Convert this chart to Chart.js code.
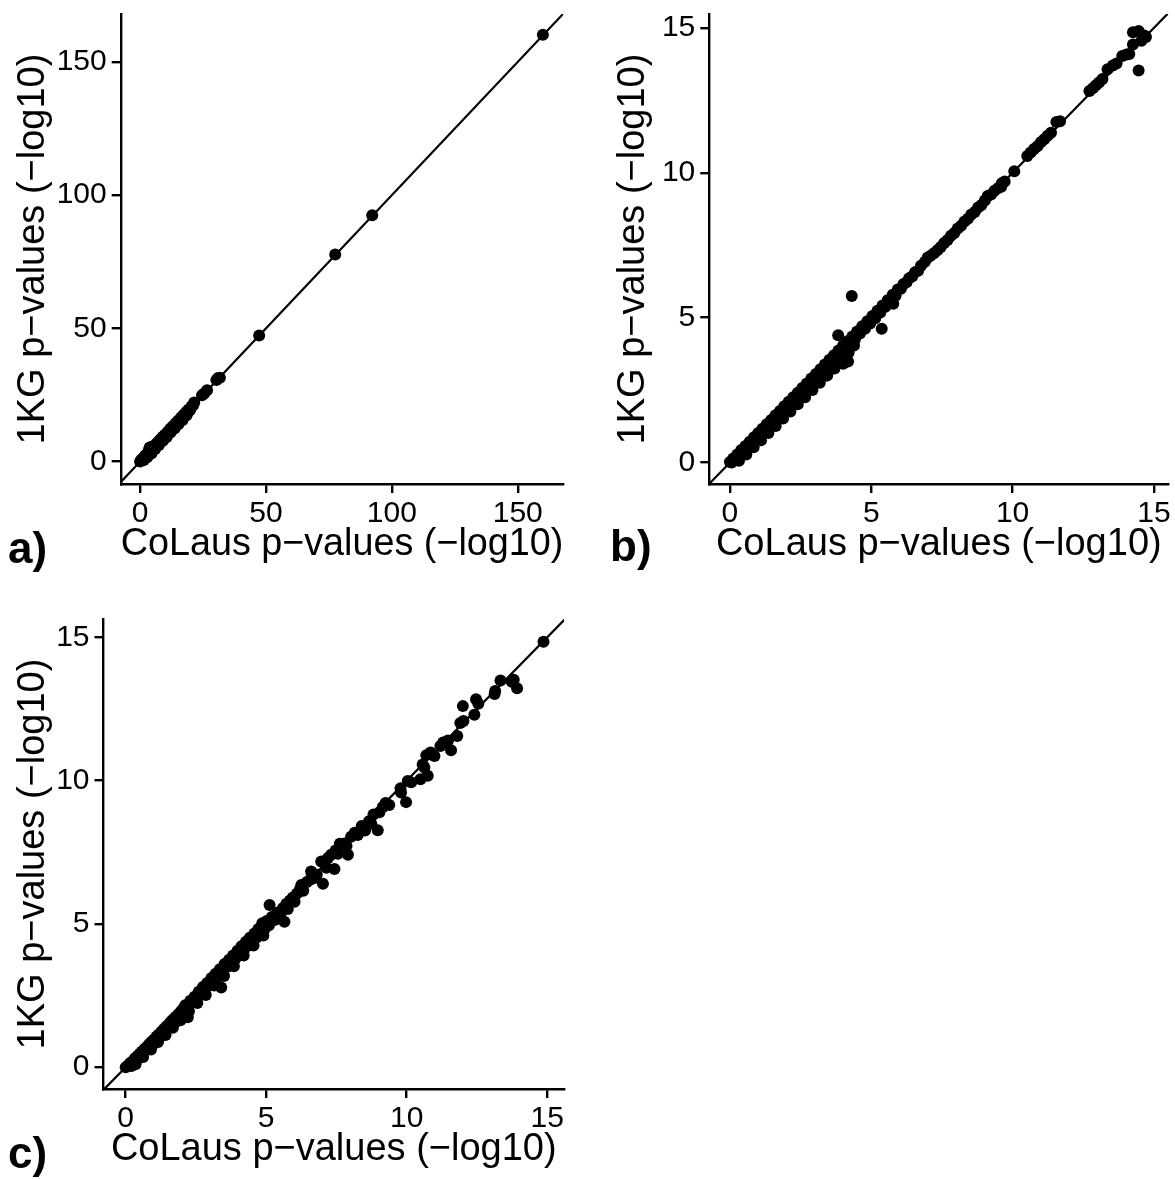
<!DOCTYPE html>
<html>
<head>
<meta charset="utf-8">
<script src="https://cdn.jsdelivr.net/npm/chart.js@4.4.1/dist/chart.umd.min.js"></script>
<style>
  html, body { margin: 0; padding: 0; background: #fff; overflow: hidden; }
  body { width: 1175px; height: 1179px; position: relative; font-family: "Liberation Sans", Arial, Helvetica, sans-serif; }
  canvas { position: absolute; }
  .tag { position: absolute; font-weight: bold; font-size: 44px; line-height: 44px; color: #000; }
</style>
</head>
<body>
<canvas id="panelA" width="600" height="620" style="left:0px;top:-30px"></canvas>
<canvas id="panelB" width="610" height="620" style="left:590px;top:-30px"></canvas>
<canvas id="panelC" width="600" height="605" style="left:-10px;top:590px"></canvas>
<div class="tag" style="left:8px;top:526px">a)</div>
<div class="tag" style="left:610px;top:524px">b)</div>
<div class="tag" style="left:8px;top:1131px">c)</div>
<script>
// axis titles
const xTitle = 'CoLaus p\u2212values (\u2212log10)';
const yTitle = '1KG p\u2212values (\u2212log10)';

// tick values
const ticksA = [0, 50, 100, 150];
const ticksBC = [0, 5, 10, 15];

// axis ranges [min, max]
const xRangeA = [-7.7, 168.1], yRangeA = [-8.4, 168.0];
const xRangeB = [-0.73, 15.51], yRangeB = [-0.74, 15.48];
const xRangeC = [-0.79, 15.6], yRangeC = [-0.76, 15.64];

// [CoLaus, 1KG] pairs
const pointsA = [
  [0,0],[0.4,0.6],[0.9,0.5],[1.2,1.4],[1.5,0.6],[1.8,1.3],[2.1,2.4],[2.6,2.0],[2.8,1.6],[3.0,3.1],[3.4,2.7],
  [3.5,4.4],[3.8,5.3],[4.2,3.6],[4.5,3.0],[4.6,5.6],[5.0,4.3],[5.4,5.6],[5.9,5.2],[6.0,4.7],[6.3,6.6],
  [6.8,6.1],[7.2,7.5],[7.5,6.2],[7.7,7.0],[8.1,8.4],[8.6,7.9],[9.0,9.3],[9.1,7.8],[9.5,8.8],[10.0,10.2],
  [10.5,9.8],[10.6,9.2],[11.0,11.2],[11.5,10.8],[12.0,12.3],[12.1,10.9],[12.5,11.9],[13.0,13.3],[13.6,12.9],
  [13.7,12.4],[14.1,14.4],[14.6,13.8],[15.1,15.3],[15.2,14.0],[15.7,15.0],[16.2,16.5],[16.7,16.0],
  [16.8,15.5],[17.2,17.5],[17.8,17.2],[18.3,18.6],[18.4,17.3],[18.8,18.2],[19.3,19.6],[19.9,19.4],
  [20.4,20.7],[21.0,21.1],[21.5,22.2],[24.6,24.9],[25.5,25.6],[26.6,26.8],[30.3,30.6],[31.0,31.4],
  [31.7,31.5],[47.3,47.3],[77.5,77.7],[92.2,92.5],[160.0,160.2]
];

const pointsB = [
  [0.0,0.02],[0.06,0.0],[0.12,0.14],[0.2,0.1],[0.26,0.28],[0.34,0.25],[0.4,0.43],[0.49,0.38],[0.55,0.57],
  [0.63,0.52],[0.7,0.72],[0.79,0.66],[0.85,0.87],[0.94,0.8],[1.0,1.02],[1.09,0.95],[1.15,1.17],[1.24,1.1],
  [1.3,1.32],[1.4,1.25],[1.46,1.47],[1.55,1.4],[1.61,1.63],[1.7,1.55],[1.77,1.78],[1.86,1.7],[1.92,1.94],
  [2.01,1.86],[2.08,2.1],[2.17,2.01],[2.24,2.25],[2.33,2.16],[2.4,2.41],[2.49,2.32],[2.56,2.57],[2.65,2.48],
  [2.72,2.73],[2.81,2.63],[2.88,2.9],[2.97,2.79],[3.04,3.06],[3.13,2.95],[3.2,3.22],[3.29,3.1],[3.36,3.38],
  [3.45,3.26],[3.52,3.55],[3.6,3.42],[3.68,3.7],[3.77,3.55],[3.84,3.87],[3.92,3.72],[4.0,4.03],[4.09,3.9],
  [4.16,4.19],[4.25,4.08],[4.33,4.35],[4.42,4.25],[4.5,4.52],[4.6,4.45],[4.68,4.7],[4.78,4.62],[4.86,4.88],
  [4.96,4.8],[5.04,5.06],[5.14,4.98],[5.22,5.24],[5.32,5.18],[5.4,5.42],[5.5,5.38],[5.58,5.6],[5.68,5.56],
  [5.76,5.79],[5.86,5.76],[5.94,5.97],[6.05,6.0],[6.14,6.16],[6.25,6.22],[6.34,6.36],[6.45,6.42],[6.55,6.57],
  [6.66,6.62],[6.76,6.79],[6.9,6.93],[7.0,7.08],[7.1,7.14],[7.22,7.22],[7.34,7.33],[7.46,7.44],[7.58,7.58],
  [7.7,7.68],[7.82,7.83],[7.94,7.92],[8.06,8.08],[8.18,8.17],[8.3,8.32],[8.42,8.41],[8.54,8.56],[8.66,8.65],
  [8.78,8.8],[8.9,8.89],[9.02,9.04],[9.12,9.2],[9.24,9.25],[9.36,9.38],[9.48,9.47],[9.6,9.52],[9.62,9.64],
  [9.72,9.7],[10.06,10.05],
  [0.32,0.06],[0.58,0.28],[0.84,0.53],[1.1,0.77],[1.36,1.02],[1.62,1.26],[1.88,1.52],[2.14,1.76],
  [2.4,2.01],[2.66,2.25],[2.92,2.5],[3.18,2.75],[3.44,3.0],[3.7,3.25],[3.95,3.55],[4.2,3.8],
  [3.6,3.24],[3.83,4.39],[4.01,3.41],[4.13,3.52],[4.18,3.49],[4.31,5.75],[4.39,4.04],[5.37,4.62],[5.78,5.48],
  [10.52,10.58],[10.64,10.7],[10.76,10.82],[10.88,10.92],[11.0,11.05],[11.12,11.16],[11.24,11.28],[11.36,11.38],
  [11.55,11.75],[11.68,11.78],[12.72,12.82],[12.84,12.92],[12.95,13.02],[13.06,13.12],[13.18,13.24],
  [13.36,13.57],[13.55,13.7],[13.68,13.77],[13.88,14.03],[14.03,14.08],[14.13,14.1],[14.26,14.43],
  [14.26,14.85],[14.46,14.89],[14.56,14.56],[14.66,14.74],[14.72,14.69],[14.46,13.53]
];

const pointsC = [
  [0.0,0.0],[0.08,0.05],[0.16,0.15],[0.2,0.04],[0.25,0.21],[0.33,0.31],[0.4,0.25],[0.42,0.39],[0.5,0.47],
  [0.58,0.55],[0.6,0.44],[0.67,0.64],[0.75,0.71],[0.8,0.63],[0.84,0.81],[0.92,0.89],[1.0,0.96],[1.02,0.83],
  [1.1,1.07],[1.18,1.14],[1.2,1.02],[1.27,1.24],[1.36,1.33],[1.4,1.22],[1.45,1.42],[1.54,1.51],[1.6,1.42],
  [1.62,1.6],[1.7,1.68],[1.8,1.77],[1.82,1.6],[1.88,1.86],[1.97,1.95],[2.0,1.82],[2.05,2.04],[2.12,2.16],
  [2.2,2.08],[2.21,1.74],[2.3,2.32],[2.38,2.26],[2.45,2.46],[2.52,2.38],[2.6,2.63],[2.68,2.58],[2.75,2.8],
  [2.82,2.7],[2.9,2.94],[2.97,2.86],[3.05,3.11],[3.12,3.02],[3.2,3.26],[3.28,3.16],[3.35,3.42],[3.4,2.78],
  [3.45,3.33],[3.52,3.6],[3.6,3.5],[3.68,3.75],[3.75,3.62],[3.82,3.9],[3.9,3.78],[3.98,4.06],[4.05,3.94],
  [4.12,4.22],[4.2,4.08],[4.28,4.38],[4.35,4.24],[4.42,4.52],[4.5,4.38],[4.58,4.67],[4.65,4.52],[4.72,4.82],
  [4.8,4.68],[4.86,5.02],[4.95,4.82],[5.02,5.1],[5.1,4.95],[5.12,5.66],[5.2,5.24],[5.3,5.14],[5.4,5.4],
  [5.5,5.3],[5.6,5.56],[5.65,5.08],[5.72,5.7],[5.77,5.52],[5.85,5.82],[5.95,5.92],[6.01,5.77],[6.1,6.06],
  [6.2,6.2],[6.25,6.36],[6.32,6.16],[6.45,6.46],[6.6,6.83],[6.58,6.55],[6.72,6.6],[6.8,6.72],[6.96,7.18],
  [7.02,6.4],[7.14,6.96],[7.2,7.3],[7.31,7.41],[7.43,6.92],[7.47,7.56],[7.55,7.45],[7.62,7.8],[7.79,7.81],
  [7.86,7.72],[7.91,7.41],[8.02,8.04],[8.15,8.18],[8.26,8.1],[8.4,8.42],[8.52,8.26],[8.66,8.58],[8.74,8.5],
  [8.82,8.82],[8.97,8.27],[9.03,8.9],[9.15,9.08],[9.25,9.22],[9.38,9.15],[9.78,9.73],[9.8,9.59],[9.98,9.25],
  [10.04,9.99],[10.16,9.94],[10.49,10.05],[10.57,10.56],[10.63,10.46],[10.7,10.89],[10.75,10.17],[10.85,10.98],
  [10.99,10.86],[11.2,11.21],[11.3,11.33],[11.47,11.4],[11.58,11.06],[11.8,11.56],[11.91,12.01],[12.02,12.08],
  [12.0,12.6],[12.41,12.3],[12.47,12.84],[12.55,12.68],[13.13,13.02],[13.15,13.13],[13.34,13.49],[13.74,13.45],
  [13.81,13.52],[13.93,13.22],[14.87,14.85],
  [0.35,0.1],[0.62,0.36],[0.9,0.62],[1.15,0.88],[1.42,1.12],[1.68,1.38],[1.95,1.64],[2.25,1.95],
  [2.55,2.24],[2.85,2.52],[3.15,2.85],[3.5,3.18],[3.85,3.52],[4.2,3.9],[4.55,4.25],[4.9,4.6]
];

Chart.defaults.font.family = '"Liberation Sans", Arial, Helvetica, sans-serif';
Chart.defaults.color = '#000';

function makePanel(id, pts, ticks, xr, yr, box) {
  const lo = Math.min(xr[0], yr[0]);
  const hi = Math.max(xr[1], yr[1]);
  const axis = (range, title, isX) => ({
    type: 'linear',
    min: range[0],
    max: range[1],
    afterBuildTicks: s => { s.ticks = ticks.map(v => ({ value: v })); },
    afterFit: s => { if (isX) s.height = box.xH; else s.width = box.yW; },
    grid: { display: true, drawOnChartArea: false, drawTicks: true, tickLength: 9, lineWidth: 2.4, color: '#000' },
    border: { display: true, color: '#000', width: 2.4 },
    ticks: { color: '#000', font: { size: 30 }, padding: isX ? 3 : 5, autoSkip: false, maxRotation: 0 },
    title: {
      display: true, text: title, color: '#000', font: { size: 38 },
      padding: isX ? { top: 0, bottom: 23 } : { top: box.yT, bottom: 0 }
    }
  });
  return new Chart(document.getElementById(id), {
    type: 'scatter',
    data: {
      datasets: [
        { data: pts.map(p => ({ x: p[0], y: p[1] })), pointRadius: 6, pointBackgroundColor: '#000', pointBorderColor: '#000', pointBorderWidth: 0 },
        { data: [{ x: lo, y: lo }, { x: hi, y: hi }], showLine: true, borderColor: '#000', borderWidth: 2.2, pointRadius: 0 }
      ]
    },
    options: {
      responsive: false,
      animation: false,
      events: [],
      layout: { padding: { top: box.top, right: box.right, left: 0, bottom: 0 } },
      plugins: { legend: { display: false }, tooltip: { enabled: false } },
      scales: { x: axis(xr, xTitle, true), y: axis(yr, yTitle, false) }
    }
  });
}

makePanel('panelA', pointsA, ticksA, xRangeA, yRangeA, { top: 44, right: 36.7, yW: 120.7, xH: 106, yT: 11 });
makePanel('panelB', pointsB, ticksBC, xRangeB, yRangeB, { top: 44, right: 31.7, yW: 119.3, xH: 106, yT: 21 });
makePanel('panelC', pointsC, ticksBC, xRangeC, yRangeC, { top: 29, right: 26, yW: 113.5, xH: 106, yT: 21 });
</script>
</body>
</html>
